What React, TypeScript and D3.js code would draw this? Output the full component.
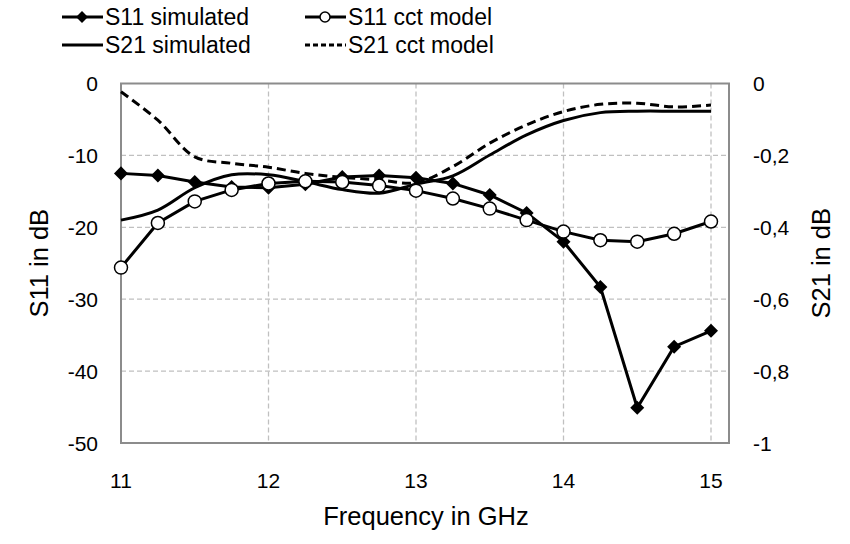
import React, { useEffect, useRef } from 'react';
import * as d3 from 'd3';

// frequency points (GHz)
const freq = [11, 11.25, 11.5, 11.75, 12, 12.25, 12.5, 12.75, 13, 13.25, 13.5, 13.75, 14, 14.25, 14.5, 14.75, 15];

// left axis, dB
const s11Sim = [-12.5, -12.8, -13.7, -14.4, -14.5, -14.0, -13.0, -12.8, -13.1, -13.9, -15.5, -18.0, -22.0, -28.3, -45.1, -36.6, -34.4];
const s11Cct = [-25.6, -19.4, -16.4, -14.8, -13.9, -13.6, -13.7, -14.2, -14.9, -16.0, -17.4, -19.0, -20.6, -21.8, -22.0, -20.9, -19.2];

// right axis, dB
const s21Sim = [-0.38, -0.352, -0.29, -0.254, -0.254, -0.273, -0.295, -0.305, -0.28, -0.257, -0.199, -0.143, -0.103, -0.081, -0.077, -0.077, -0.077];
const s21Cct = [-0.023, -0.102, -0.204, -0.222, -0.233, -0.25, -0.261, -0.268, -0.276, -0.231, -0.166, -0.115, -0.078, -0.058, -0.055, -0.065, -0.06];

const xTicks = [11, 12, 13, 14, 15];
const leftTicks = [0, -10, -20, -30, -40, -50];
const rightTicks = [0, -0.2, -0.4, -0.6, -0.8, -1];

const W = 850;
const H = 544;
const FONT = '"Liberation Sans", Arial, sans-serif';
const TICK_SIZE = '21px';
const LEGEND_SIZE = '23px';
const TITLE_SIZE = '25.5px';

const App: React.FC = () => {
  const svgRef = useRef<SVGSVGElement>(null);

  useEffect(() => {
    if (!svgRef.current) return;
    const svg = d3.select(svgRef.current);
    svg.selectAll('*').remove();

    const plot = { left: 121, right: 729, top: 83.5, bottom: 443 };

    // x axis runs a little past 15 on the right
    const x = d3.scaleLinear().domain([11, 15 + (729 - 711) / 147.5]).range([plot.left, plot.right]);
    const yL = d3.scaleLinear().domain([-50, 0]).range([plot.bottom, plot.top]);
    const yR = d3.scaleLinear().domain([-1, 0]).range([plot.bottom, plot.top]);

    // grid
    const grid = svg.append('g');
    grid.selectAll('line.h')
      .data(leftTicks.filter(t => t !== 0 && t !== -50))
      .enter().append('line')
      .attr('x1', plot.left).attr('x2', plot.right)
      .attr('y1', d => yL(d)).attr('y2', d => yL(d))
      .attr('stroke', '#c0c0c0').attr('stroke-width', 1.3).attr('stroke-dasharray', '5,3');
    grid.selectAll('line.v')
      .data(xTicks.slice(1))
      .enter().append('line')
      .attr('x1', d => x(d)).attr('x2', d => x(d))
      .attr('y1', plot.top).attr('y2', plot.bottom)
      .attr('stroke', '#c0c0c0').attr('stroke-width', 1.3).attr('stroke-dasharray', '5,3');

    // frame
    svg.append('rect')
      .attr('x', plot.left).attr('y', plot.top)
      .attr('width', plot.right - plot.left).attr('height', plot.bottom - plot.top)
      .attr('fill', 'none').attr('stroke', '#8c8c8c').attr('stroke-width', 2);

    // tick labels
    svg.selectAll('text.xt')
      .data(xTicks).enter().append('text')
      .attr('x', d => x(d)).attr('y', 488)
      .attr('text-anchor', 'middle')
      .style('font-family', FONT).style('font-size', TICK_SIZE)
      .text(d => d);
    svg.selectAll('text.yl')
      .data(leftTicks).enter().append('text')
      .attr('x', 98).attr('y', d => yL(d) + 7.5)
      .attr('text-anchor', 'end')
      .style('font-family', FONT).style('font-size', TICK_SIZE)
      .text(d => d);
    svg.selectAll('text.yr')
      .data(rightTicks).enter().append('text')
      .attr('x', 753).attr('y', d => yR(d) + 7.5)
      .attr('text-anchor', 'start')
      .style('font-family', FONT).style('font-size', TICK_SIZE)
      .text(d => String(d).replace('.', ','));

    // axis titles
    svg.append('text')
      .attr('x', (plot.left + plot.right) / 2 + 1).attr('y', 525)
      .attr('text-anchor', 'middle')
      .style('font-family', FONT).style('font-size', TITLE_SIZE)
      .text('Frequency in GHz');
    svg.append('text')
      .attr('transform', `translate(48,${(plot.top + plot.bottom) / 2}) rotate(-90)`)
      .attr('text-anchor', 'middle')
      .style('font-family', FONT).style('font-size', TITLE_SIZE)
      .text('S11 in dB');
    svg.append('text')
      .attr('transform', `translate(830,${(plot.top + plot.bottom) / 2}) rotate(-90)`)
      .attr('text-anchor', 'middle')
      .style('font-family', FONT).style('font-size', TITLE_SIZE)
      .text('S21 in dB');

    const idx = freq.map((_, i) => i);
    const lineOf = (vals: number[], y: d3.ScaleLinear<number, number>, curve: d3.CurveFactory) =>
      d3.line<number>().x(i => x(freq[i])).y(i => y(vals[i])).curve(curve)(idx);

    // S21 cct model (dashed)
    svg.append('path')
      .attr('d', lineOf(s21Cct, yR, d3.curveCatmullRom) as string)
      .attr('fill', 'none').attr('stroke', '#000').attr('stroke-width', 3)
      .attr('stroke-dasharray', '9,5');
    // S21 simulated
    svg.append('path')
      .attr('d', lineOf(s21Sim, yR, d3.curveCatmullRom) as string)
      .attr('fill', 'none').attr('stroke', '#000').attr('stroke-width', 3);

    // S11 simulated
    svg.append('path')
      .attr('d', lineOf(s11Sim, yL, d3.curveLinear) as string)
      .attr('fill', 'none').attr('stroke', '#000').attr('stroke-width', 3);
    const diamond = d3.symbol().type(d3.symbolDiamond2).size(125);
    svg.selectAll('path.dm')
      .data(idx).enter().append('path')
      .attr('transform', i => `translate(${x(freq[i])},${yL(s11Sim[i])})`)
      .attr('d', diamond() as string)
      .attr('fill', '#000');

    // S11 cct model
    svg.append('path')
      .attr('d', lineOf(s11Cct, yL, d3.curveLinear) as string)
      .attr('fill', 'none').attr('stroke', '#000').attr('stroke-width', 3);
    svg.selectAll('circle.ck')
      .data(idx).enter().append('circle')
      .attr('cx', i => x(freq[i])).attr('cy', i => yL(s11Cct[i]))
      .attr('r', 6.5)
      .attr('fill', '#fff').attr('stroke', '#000').attr('stroke-width', 1.5);

    // legend
    const legend = [
      { label: 'S11 simulated', x0: 62, y: 17, kind: 'diamond' },
      { label: 'S11 cct model', x0: 305, y: 17, kind: 'circle' },
      { label: 'S21 simulated', x0: 62, y: 45, kind: 'solid' },
      { label: 'S21 cct model', x0: 305, y: 45, kind: 'dashed' },
    ];
    const legendDiamond = d3.symbol().type(d3.symbolDiamond2).size(90);
    legend.forEach(l => {
      const g = svg.append('g');
      g.append('line')
        .attr('x1', l.x0).attr('x2', l.x0 + 41)
        .attr('y1', l.y).attr('y2', l.y)
        .attr('stroke', '#000').attr('stroke-width', 3)
        .attr('stroke-dasharray', l.kind === 'dashed' ? '5,3' : null);
      if (l.kind === 'diamond') {
        g.append('path')
          .attr('transform', `translate(${l.x0 + 20},${l.y})`)
          .attr('d', legendDiamond() as string)
          .attr('fill', '#000');
      } else if (l.kind === 'circle') {
        g.append('circle')
          .attr('cx', l.x0 + 20).attr('cy', l.y).attr('r', 5)
          .attr('fill', '#fff').attr('stroke', '#000').attr('stroke-width', 1.5);
      }
      g.append('text')
        .attr('x', l.x0 + 43).attr('y', l.y + 8)
        .style('font-family', FONT).style('font-size', LEGEND_SIZE)
        .text(l.label);
    });
  }, []);

  return (
    <svg ref={svgRef} width={W} height={H}
      style={{ position: 'absolute', left: 0, top: 0, background: '#fff' }} />
  );
};

export default App;
